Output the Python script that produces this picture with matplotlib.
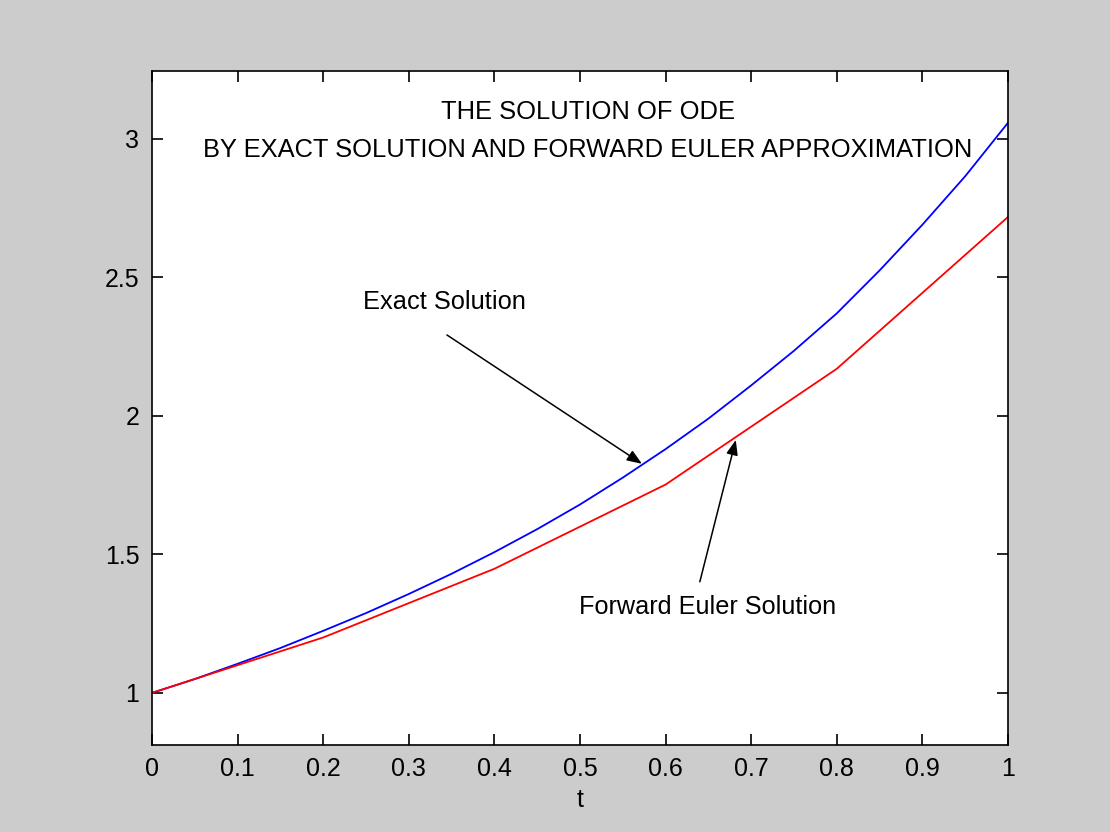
import matplotlib
matplotlib.use("Agg")
import matplotlib.pyplot as plt

# Data
t_exact = [0.0, 0.05, 0.1, 0.15, 0.2, 0.25, 0.3, 0.35, 0.4, 0.45, 0.5,
           0.55, 0.6, 0.65, 0.7, 0.75, 0.8, 0.85, 0.9, 0.95, 1.0]
y_exact = [1.0, 1.05, 1.105, 1.162, 1.224, 1.288, 1.357, 1.43, 1.508, 1.591, 1.68,
           1.777, 1.88, 1.99, 2.11, 2.235, 2.37, 2.525, 2.69, 2.865, 3.058]

t_euler = [0.0, 0.2, 0.4, 0.6, 0.8, 1.0]
y_euler = [1.0, 1.2, 1.448, 1.752, 2.17, 2.718]

x_ticks = [0, 0.1, 0.2, 0.3, 0.4, 0.5, 0.6, 0.7, 0.8, 0.9, 1]
x_tick_labels = ["0", "0.1", "0.2", "0.3", "0.4", "0.5", "0.6", "0.7", "0.8", "0.9", "1"]
y_ticks = [1, 1.5, 2, 2.5, 3]
y_tick_labels = ["1", "1.5", "2", "2.5", "3"]

title_lines = ["THE SOLUTION OF ODE", "BY EXACT SOLUTION AND FORWARD EULER APPROXIMATION"]

plt.rcParams['font.family'] = ['Liberation Sans', 'DejaVu Sans']

fig = plt.figure(figsize=(11.1, 8.32), dpi=100, facecolor="#cccccc")
ax = fig.add_axes([0.1369, 0.1046, 0.7712, 0.8101])
ax.set_facecolor("white")

ax.plot(t_exact, y_exact, color=(0, 0, 1), lw=1.3)
ax.plot(t_euler, y_euler, color=(1, 0, 0), lw=1.3)

ax.set_xlim(0, 1)
ax.set_ylim(0.812, 3.245)
ax.set_xticks(x_ticks)
ax.set_xticklabels(x_tick_labels)
ax.set_yticks(y_ticks)
ax.set_yticklabels(y_tick_labels)
ax.tick_params(direction="in", length=8, width=1.2, top=True, right=True,
               labelsize=18, pad=9, colors="black")
for s in ax.spines.values():
    s.set_linewidth(1.2)
    s.set_color("black")

ax.set_xlabel("t", fontsize=18, labelpad=5)

ax.text(0.509, 3.097, title_lines[0], ha="center", va="center", fontsize=18.4)
ax.text(0.509, 2.960, title_lines[1], ha="center", va="center", fontsize=18.4)

arrowprops = dict(arrowstyle="-|>,head_length=0.9,head_width=0.35", color="black",
                  lw=1.1, shrinkA=0, shrinkB=0)
ax.annotate("", xy=(0.5724, 1.827), xytext=(0.3446, 2.292), arrowprops=arrowprops)
ax.annotate("", xy=(0.682, 1.913), xytext=(0.640, 1.401), arrowprops=arrowprops)
ax.text(0.342, 2.412, "Exact Solution", ha="center", va="center", fontsize=18.3)
ax.text(0.6495, 1.310, "Forward Euler Solution", ha="center", va="center", fontsize=18.2)

fig.savefig("out.png", dpi=100, facecolor=fig.get_facecolor())
